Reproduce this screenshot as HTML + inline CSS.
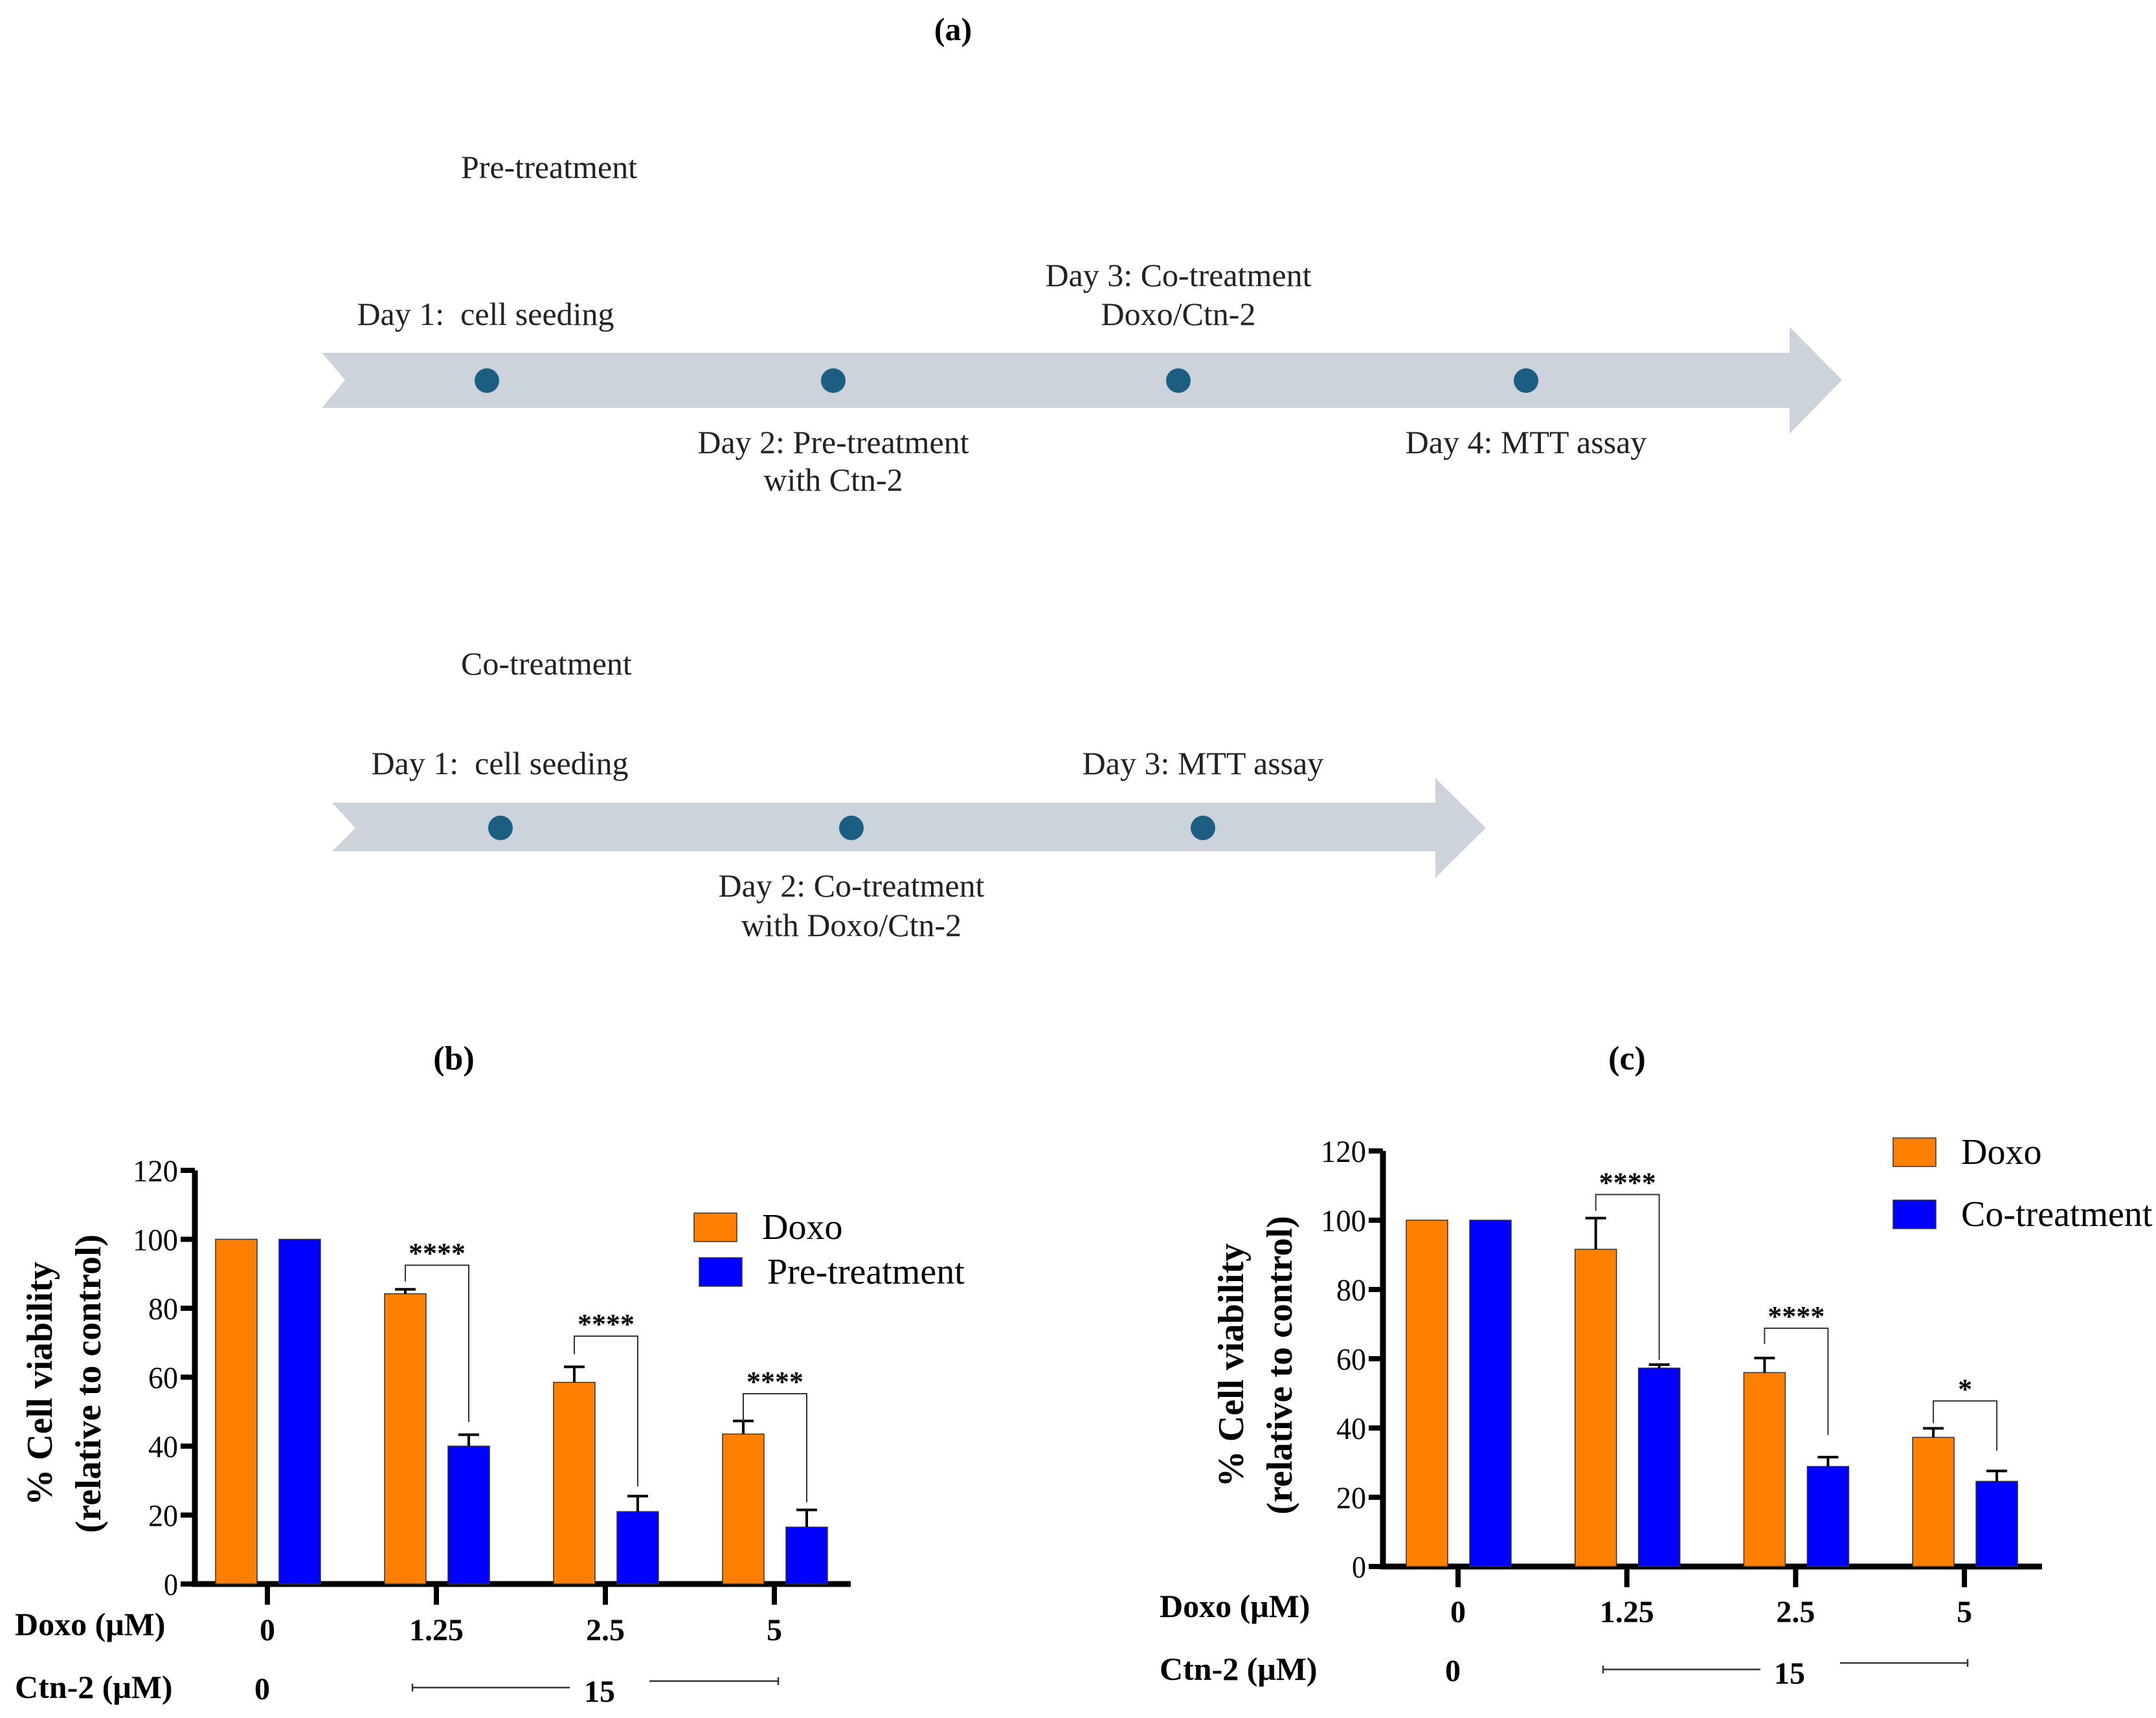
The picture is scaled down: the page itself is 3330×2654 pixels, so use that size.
<!DOCTYPE html>
<html><head><meta charset="utf-8"><style>
html,body{margin:0;padding:0;background:#fff}
svg{display:block}
text{font-family:"Liberation Serif",serif;white-space:pre}
</style></head><body>
<svg id="root" width="3330" height="2654" viewBox="0 0 3330 2654">
<text x="1472" y="62" font-size="50" font-weight="bold" text-anchor="middle">(a)</text>
<g fill="#cdd3db">
<text x="712" y="275" font-size="50" fill="#222">Pre-treatment</text>
<polygon points="497,545 2764,545 2764,505 2845,587 2764,670 2764,630 497,630 533,587"/>
<circle cx="752" cy="588" r="19" fill="#1b5e82"/>
<circle cx="1287" cy="588" r="19" fill="#1b5e82"/>
<circle cx="1820" cy="588" r="19" fill="#1b5e82"/>
<circle cx="2357" cy="588" r="19" fill="#1b5e82"/>
<g font-size="50" fill="#222" text-anchor="middle">
<text x="750" y="502">Day 1:  cell seeding</text>
<text x="1820" y="442">Day 3: Co-treatment</text>
<text x="1820" y="502">Doxo/Ctn-2</text>
<text x="1287" y="700">Day 2: Pre-treatment</text>
<text x="1287" y="758">with Ctn-2</text>
<text x="2357" y="700">Day 4: MTT assay</text>
</g></g>
<g fill="#cdd3db">
<text x="712" y="1042" font-size="50" fill="#222">Co-treatment</text>
<polygon points="513,1240 2217,1240 2217,1202 2295,1279 2217,1356 2217,1315 513,1315 549,1279"/>
<circle cx="773" cy="1279" r="19" fill="#1b5e82"/>
<circle cx="1315" cy="1279" r="19" fill="#1b5e82"/>
<circle cx="1858" cy="1279" r="19" fill="#1b5e82"/>
<g font-size="50" fill="#222" text-anchor="middle">
<text x="772" y="1196">Day 1:  cell seeding</text>
<text x="1858" y="1196">Day 3: MTT assay</text>
<text x="1315" y="1385">Day 2: Co-treatment</text>
<text x="1315" y="1446">with Doxo/Ctn-2</text>
</g></g>
<text x="701" y="1652" font-size="52" font-weight="bold" text-anchor="middle">(b)</text>
<text x="2513" y="1652" font-size="52" font-weight="bold" text-anchor="middle">(c)</text>
<g id="chartB"></g>
<g id="chartC"></g>
</svg>
<script>
const categories = ["0", "1.25", "2.5", "5"];
const yTicks = [0, 20, 40, 60, 80, 100, 120];
const bDoxo = [100, 84.2, 58.5, 43.5];
const bDoxoErr = [0, 1.3, 4.5, 3.8];
const bPre = [100, 40, 21, 16.5];
const bPreErr = [0, 3.3, 4.5, 5];
const bStars = ["", "****", "****", "****"];
const bBracketTop = [0, 92.5, 71.9, 55.2];
const bBracketLeft = [0, 87.8, 66.7, 47.2];
const bBracketRight = [0, 47, 28.3, 23.7];
const cDoxo = [100, 91.6, 56, 37.3];
const cDoxoErr = [0, 9, 4.2, 2.6];
const cCo = [100, 57.3, 28.9, 24.6];
const cCoErr = [0, 1, 2.7, 3];
const cStars = ["", "****", "****", "*"];
const cBracketTop = [0, 107.4, 68.8, 47.8];
const cBracketLeft = [0, 102.7, 64.3, 41.4];
const cBracketRight = [0, 59.7, 38, 33.4];
const NS = "http://www.w3.org/2000/svg";
function mk(parent, tag, attrs, txt){
  const e = document.createElementNS(NS, tag);
  for (const k in attrs) e.setAttribute(k, attrs[k]);
  if (txt !== undefined) e.textContent = txt;
  parent.appendChild(e); return e;
}
function draw(g, o, doxo, doxoErr, other, otherErr, stars, bt, bl, br){
  const y = v => o.y0 - (v/120)*(o.y0 - o.y120);
  const x = i => o.tick0 + i*o.step;
  const ax = mk(g,'path',{d:`M${o.ax},${o.y120} V${o.y0} H${o.xend}`,stroke:'#000','stroke-width':9,fill:'none'});
  
  
  yTicks.forEach(t=>{
    const l = mk(g,'line',{x1:o.ax-22,x2:o.ax,y1:y(t),y2:y(t),stroke:'#000','stroke-width':8});
    
    
    const tx = mk(g,'text',{x:o.ax-26,y:y(t)+17,'font-size':48,'text-anchor':'end',textLength:t>=100?70:(t>0?46:22),lengthAdjust:'spacingAndGlyphs'},String(t));
    
    
  });
  categories.forEach((c,i)=>{
    const cx = x(i);
    const tk = mk(g,'line',{x1:cx,x2:cx,y1:o.y0,y2:o.y0+32,stroke:'#000','stroke-width':8});
    
    
    const tl = mk(g,'text',{x:cx,y:o.labY,'font-size':48,'font-weight':'bold','text-anchor':'middle'},c);
    
    
    const bw = 64;
    [[doxo,doxoErr,'#ff7f00',-48],[other,otherErr,'#0000ff',50]].forEach(([vals,errs,col,off],s)=>{
      const bx = cx+off-bw/2;
      const r = mk(g,'rect',{x:bx,y:y(vals[i]),width:bw,height:o.y0-y(vals[i]),fill:col,stroke:'#333','stroke-width':1.5});
      
      
      if (errs[i]>0){
        const e = mk(g,'path',{d:`M${cx+off},${y(vals[i])} V${y(vals[i]+errs[i])} M${cx+off-16},${y(vals[i]+errs[i])} H${cx+off+16}`,stroke:'#000','stroke-width':4,fill:'none'});
        
        
      }
    });
    if (stars[i]){
      const lx = cx-48, rx = cx+50;
      const b = mk(g,'path',{d:`M${lx},${y(bl[i])} V${y(bt[i])} H${rx} V${y(br[i])}`,stroke:'#333','stroke-width':2,fill:'none'});
      
      
      const st = mk(g,'text',{x:(lx+rx)/2,y:y(bt[i])-4,'font-size':44,'font-weight':'bold','text-anchor':'middle'},stars[i]);
      
      
    }
  });
  const yc = (o.y0+o.y120)/2+10;
  const t1 = mk(g,'text',{x:0,y:0,'font-size':56,'font-weight':'bold','text-anchor':'middle',transform:`translate(${o.t1x},${yc}) rotate(-90)`},'% Cell viability');
  
  
  const t2 = mk(g,'text',{x:0,y:0,'font-size':56,'font-weight':'bold','text-anchor':'middle',transform:`translate(${o.t1x+75},${yc}) rotate(-90)`},'(relative to control)');
  
  
  const d = mk(g,'text',{x:o.rowX,y:o.labY-8,'font-size':50,'font-weight':'bold'},'Doxo (μM)');
  
  
  const ct = mk(g,'text',{x:o.rowX,y:o.ctnY+16,'font-size':50,'font-weight':'bold'},'Ctn-2 (μM)');
  
  
  const z = mk(g,'text',{x:x(0)-8,y:o.ctnY+18,'font-size':48,'font-weight':'bold','text-anchor':'middle'},'0');
  
  
  const f = mk(g,'text',{x:o.fx,y:o.ctnY+22,'font-size':48,'font-weight':'bold','text-anchor':'middle'},'15');
  
  
  const ln = mk(g,'path',{d:`M${o.l1[0]},${o.ctnY-6} v12 M${o.l1[0]},${o.ctnY} H${o.l1[1]} M${o.l2[0]},${o.ctnY-10} H${o.l2[1]} M${o.l2[1]},${o.ctnY-16} v12`,stroke:'#333','stroke-width':2.5,fill:'none'});
  
  
  [['#ff7f00',o.leg[0],'Doxo'],['#0000ff',o.leg[1],o.name]].forEach(([col,ly,name],k)=>{
    const r = mk(g,'rect',{x:o.legX+(k?o.legOff:0),y:ly-22,width:66,height:44,fill:col,stroke:'#333','stroke-width':1.5});
    
    
    const t = mk(g,'text',{x:o.legX+(k?o.legOff:0)+105,y:ly+18,'font-size':56},name);
    
    
  });
}
draw(document.getElementById('chartB'),{ax:301,y0:2447,y120:1808,xend:1314,tick0:413,step:261,labY:2534,ctnY:2607,rowX:23,fx:926,l1:[637,880],l2:[1003,1202],leg:[1896,1965],legX:1072,legOff:8,t1x:80,name:'Pre-treatment'},bDoxo,bDoxoErr,bPre,bPreErr,bStars,bBracketTop,bBracketLeft,bBracketRight);
draw(document.getElementById('chartC'),{ax:2136,y0:2420,y120:1778,xend:3154,tick0:2252,step:260.7,labY:2506,ctnY:2579,rowX:1791,fx:2764,l1:[2476,2719],l2:[2842,3039],leg:[1780,1876],legX:2924,legOff:0,t1x:1920,name:'Co-treatment'},cDoxo,cDoxoErr,cCo,cCoErr,cStars,cBracketTop,cBracketLeft,cBracketRight);
</script>
</body></html>
